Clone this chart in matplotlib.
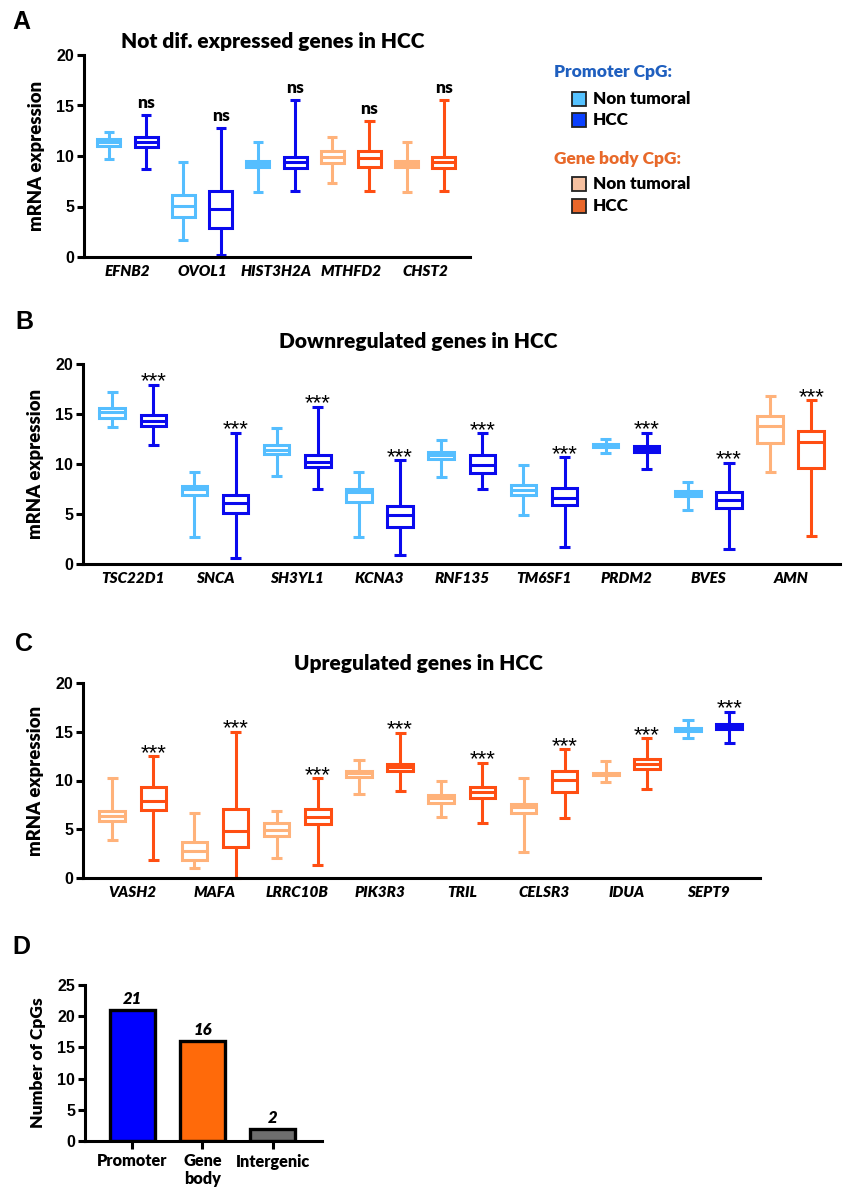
import matplotlib.pyplot as plt
from matplotlib.patches import Rectangle

plt.rcParams['font.family'] = ['Lato', 'DejaVu Sans']
BW = 'heavy'
plt.rcParams['font.weight'] = BW

# colours
c_prom_nt = '#55BEFF'
c_prom_hcc = '#0A0AEE'
c_body_nt = '#FFB27A'
c_body_hcc = '#FF4E12'

# ---- panel A ----
genes_a = ['EFNB2', 'OVOL1', 'HIST3H2A', 'MTHFD2', 'CHST2']
region_a = ['P', 'P', 'P', 'G', 'G']
# [low whisker, q1, median, q3, high whisker]
nt_a = [[9.7, 11.0, 11.35, 11.7, 12.4],
        [1.65, 4.0, 5.07, 6.1, 9.4],
        [6.4, 8.9, 9.2, 9.55, 11.37],
        [7.3, 9.3, 9.95, 10.5, 11.9],
        [6.4, 8.9, 9.2, 9.55, 11.37]]
hcc_a = [[8.7, 10.9, 11.4, 11.9, 14.1],
         [0.23, 2.87, 4.74, 6.55, 12.75],
         [6.5, 8.86, 9.4, 9.95, 15.55],
         [6.5, 8.96, 9.8, 10.5, 13.5],
         [6.5, 8.86, 9.4, 9.95, 15.55]]
sig_a = ['ns', 'ns', 'ns', 'ns', 'ns']

# ---- panel B ----
genes_b = ['TSC22D1', 'SNCA', 'SH3YL1', 'KCNA3', 'RNF135', 'TM6SF1', 'PRDM2', 'BVES', 'AMN']
region_b = ['P', 'P', 'P', 'P', 'P', 'P', 'P', 'P', 'G']
nt_b = [[13.7, 14.6, 15.17, 15.64, 17.2],
        [2.7, 6.92, 7.5, 7.82, 9.2],
        [8.82, 11.0, 11.35, 11.85, 13.64],
        [2.7, 6.15, 7.15, 7.5, 9.15],
        [8.72, 10.5, 10.88, 11.18, 12.41],
        [4.9, 6.86, 7.42, 7.85, 9.92],
        [11.08, 11.71, 11.85, 11.98, 12.48],
        [5.39, 6.82, 7.09, 7.25, 8.22],
        [9.22, 12.05, 13.81, 14.78, 16.8]]
hcc_b = [[11.88, 13.84, 14.34, 14.94, 17.94],
         [0.6, 5.06, 6.1, 6.86, 13.14],
         [7.52, 9.7, 10.15, 10.9, 15.74],
         [0.87, 3.7, 4.86, 5.82, 10.4],
         [7.45, 9.08, 9.92, 10.88, 13.08],
         [1.73, 5.86, 6.59, 7.62, 10.65],
         [9.52, 11.15, 11.45, 11.75, 13.14],
         [1.5, 5.62, 6.42, 7.19, 10.12],
         [2.76, 9.55, 12.15, 13.34, 16.37]]
sig_b = ['***'] * 9

# ---- panel C ----
genes_c = ['VASH2', 'MAFA', 'LRRC10B', 'PIK3R3', 'TRIL', 'CELSR3', 'IDUA', 'SEPT9']
region_c = ['G', 'G', 'G', 'G', 'G', 'G', 'G', 'P']
nt_c = [[3.85, 5.86, 6.4, 6.92, 10.29],
        [1.02, 1.8, 2.8, 3.65, 6.64],
        [2.04, 4.26, 4.94, 5.69, 6.92],
        [8.62, 10.39, 10.73, 11.0, 12.1],
        [6.24, 7.73, 8.21, 8.55, 9.98],
        [2.69, 6.64, 7.26, 7.63, 10.22],
        [9.88, 10.53, 10.7, 10.8, 11.99],
        [14.38, 15.03, 15.23, 15.4, 16.18]]
hcc_c = [[1.87, 6.98, 7.94, 9.37, 12.5],
         [0.0, 3.2, 4.87, 7.12, 14.99],
         [1.36, 5.52, 6.3, 7.09, 10.22],
         [8.89, 10.97, 11.35, 11.69, 14.92],
         [5.62, 8.21, 8.82, 9.34, 11.82],
         [6.2, 8.86, 10.05, 11.0, 13.19],
         [9.13, 11.18, 11.72, 12.2, 14.31],
         [13.8, 15.3, 15.57, 15.84, 17.04]]
sig_c = ['***'] * 8

# ---- panel D ----
cpg_regions = ['Promoter', 'Gene\nbody', 'Intergenic']
cpg_counts = [21, 16, 2]
cpg_colors = ['#0000FF', '#FF6A0A', '#6E6E6E']

W, H = 843, 1187
fig = plt.figure(figsize=(W / 100, H / 100), dpi=100)


def axes_px(x0, x1, ytop, ybot):
    return fig.add_axes([x0 / W, 1 - ybot / H, (x1 - x0) / W, (ybot - ytop) / H])


def style_axes(ax, ylabel, fs=13.3):
    for s in ['top', 'right']:
        ax.spines[s].set_visible(False)
    for s in ['left', 'bottom']:
        ax.spines[s].set_linewidth(2.2)
    ax.tick_params(axis='y', width=2.2, length=5, labelsize=11.5, pad=2)
    for t in ax.get_yticklabels():
        t.set_fontfamily('Liberation Sans')
        t.set_fontweight('bold')
    ax.set_ylabel(ylabel, fontsize=fs, fontweight=BW, labelpad=8)


def draw_boxes(ax, genes, region, nt, hcc, sig, xlim):
    stats, pos, cols = [], [], []
    for i in range(len(genes)):
        for j, d in enumerate([nt[i], hcc[i]]):
            stats.append(dict(whislo=d[0], q1=d[1], med=d[2], q3=d[3], whishi=d[4], fliers=[]))
            pos.append(2 * i + j)
            if region[i] == 'P':
                cols.append(c_prom_nt if j == 0 else c_prom_hcc)
            else:
                cols.append(c_body_nt if j == 0 else c_body_hcc)
    art = ax.bxp(stats, positions=pos, widths=0.62, capwidths=0.27, showfliers=False,
                 patch_artist=True, manage_ticks=False)
    for k, c in enumerate(cols):
        art['boxes'][k].set(facecolor='white', edgecolor=c, linewidth=2.2)
        art['medians'][k].set(color=c, linewidth=2.2)
        for a in art['whiskers'][2 * k:2 * k + 2] + art['caps'][2 * k:2 * k + 2]:
            a.set(color=c, linewidth=2.2, solid_capstyle='butt')
            a.set_clip_on(False)
    for i in range(len(genes)):
        if sig[i] == 'ns':
            ax.annotate('ns', (2 * i + 1, hcc[i][4]), xytext=(0, 5), textcoords='offset points',
                        ha='center', va='baseline', fontsize=12.5, fontweight=BW)
        else:
            ax.annotate(sig[i], (2 * i + 1, hcc[i][4]), xytext=(0, -2), textcoords='offset points',
                        ha='center', va='baseline', fontsize=16, fontweight='normal',
                        family='Liberation Sans')
    ax.set_xticks([2 * i + 0.5 for i in range(len(genes))])
    ax.set_xticklabels(genes, fontsize=11, fontweight=BW, style='italic')
    ax.tick_params(axis='x', length=0, pad=6)
    ax.set_xlim(*xlim)
    ax.set_ylim(0, 20)
    ax.set_yticks([0, 5, 10, 15, 20])


# A
axA = axes_px(84, 470, 55, 257)
draw_boxes(axA, genes_a, region_a, nt_a, hcc_a, sig_a, (-0.67, 9.7))
style_axes(axA, 'mRNA expression')
axA.text(0.49, 1.065, 'Not dif. expressed genes in HCC', transform=axA.transAxes,
         ha='center', va='center', fontsize=15, fontweight=BW)

# B
axB = axes_px(83, 840, 364, 564)
draw_boxes(axB, genes_b, region_b, nt_b, hcc_b, sig_b, (-0.71, 17.7))
style_axes(axB, 'mRNA expression')
axB.text(0.4425, 1.11, 'Downregulated genes in HCC', transform=axB.transAxes,
         ha='center', va='center', fontsize=15, fontweight=BW)

# C
axC = axes_px(83, 760, 683, 878)
draw_boxes(axC, genes_c, region_c, nt_c, hcc_c, sig_c, (-0.71, 15.75))
style_axes(axC, 'mRNA expression')
axC.text(0.495, 1.10, 'Upregulated genes in HCC', transform=axC.transAxes,
         ha='center', va='center', fontsize=15, fontweight=BW)

# D
axD = axes_px(85, 322, 985, 1141)
axD.bar(range(len(cpg_counts)), cpg_counts, width=0.64, color=cpg_colors,
        edgecolor='black', linewidth=2.4)
for i, v in enumerate(cpg_counts):
    axD.annotate(str(v), (i, v), xytext=(0, 2), textcoords='offset points', ha='center',
                 va='bottom', fontsize=12, fontweight=BW, style='italic')
axD.set_xlim(-0.67, 2.7)
axD.set_ylim(0, 25)
axD.set_yticks([0, 5, 10, 15, 20, 25])
axD.set_xticks(range(len(cpg_counts)))
axD.set_xticklabels(cpg_regions, fontsize=11.7, fontweight=BW, linespacing=1.15)
style_axes(axD, 'Number of CpGs', fs=12.5)
axD.tick_params(axis='x', width=2.2, length=6, pad=3)

# legend
fig.text(554 / W, 1 - 72 / H, 'Promoter CpG:', color='#1F5FBF', fontsize=12.5,
         fontweight=BW, va='center')
fig.text(554 / W, 1 - 159 / H, 'Gene body CpG:', color='#E8692A', fontsize=12.5,
         fontweight=BW, va='center')
leg_items = [(99, '#55C2FF', 'Non tumoral'), (120, '#0A40FF', 'HCC'),
             (184, '#F5C0A0', 'Non tumoral'), (206, '#E8662A', 'HCC')]
for y, c, lab in leg_items:
    fig.patches.append(Rectangle(((579 - 7) / W, 1 - (y + 7) / H), 14 / W, 14 / H,
                                 transform=fig.transFigure, facecolor=c,
                                 edgecolor='#222222', linewidth=1.3))
    fig.text(593 / W, 1 - y / H, lab, fontsize=12.3, fontweight=BW, va='center')

# panel letters
for lab, x, y in [('A', 12, 22), ('B', 15, 322), ('C', 15, 644), ('D', 12, 947)]:
    fig.text(x / W, 1 - y / H, lab, fontsize=18, fontweight='bold', va='center',
             family='Liberation Sans')

plt.savefig('out.png', dpi=100)
